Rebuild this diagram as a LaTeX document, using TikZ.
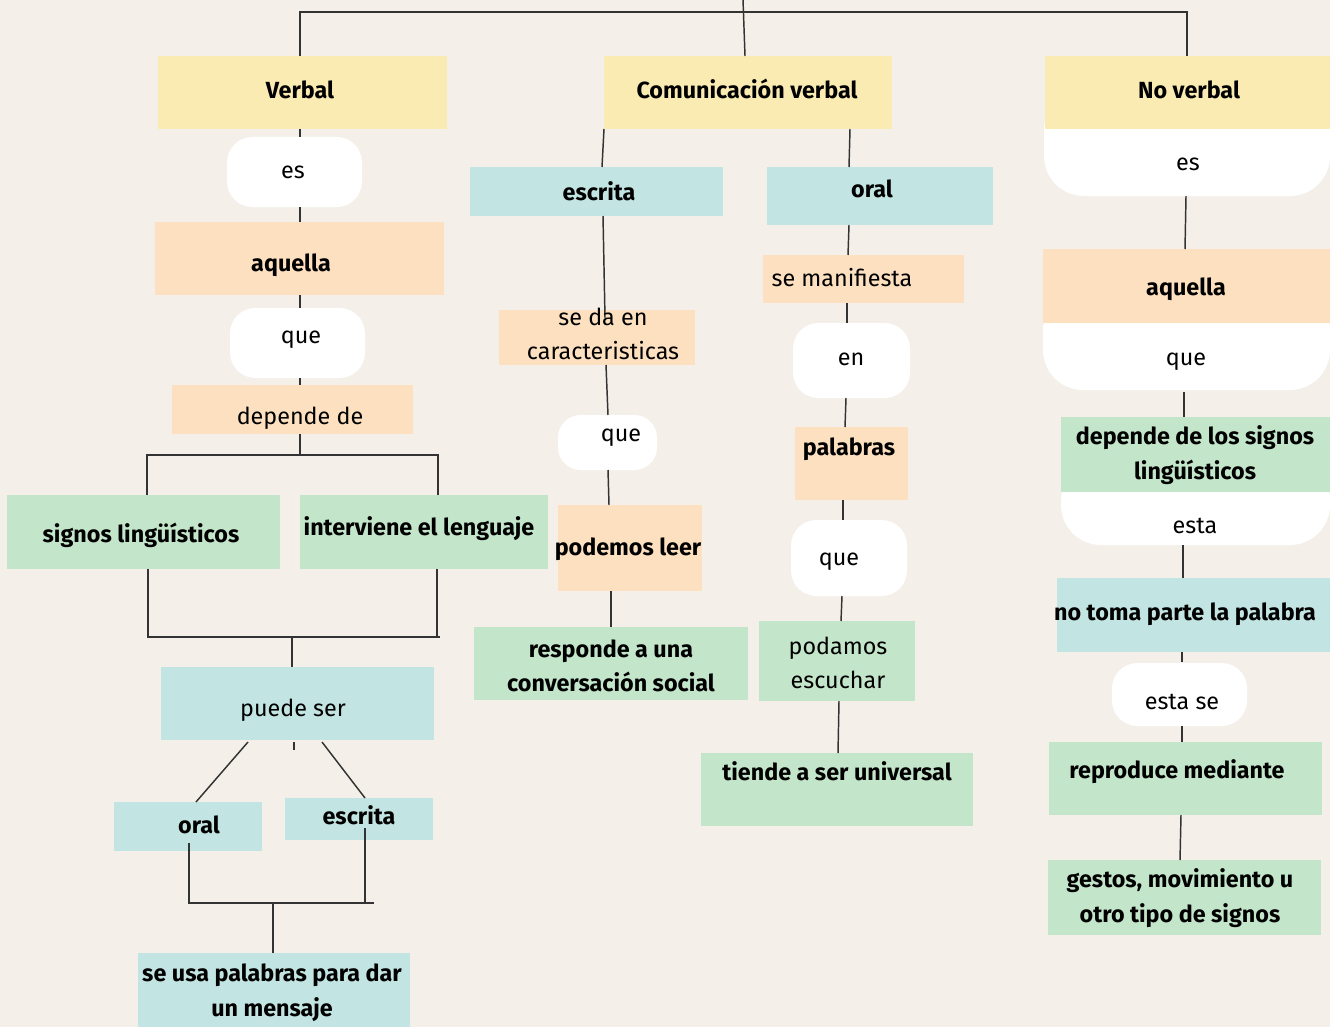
\documentclass[tikz,border=0pt]{standalone}
\usepackage{fontspec}
\setmainfont{Fira Sans}
\usetikzlibrary{fit}
\definecolor{bgc}{HTML}{F4EFE9}
\definecolor{cYel}{HTML}{F9EBB2}
\definecolor{cPea}{HTML}{FCE0BF}
\definecolor{cBlu}{HTML}{C2E4E2}
\definecolor{cGre}{HTML}{C3E5CA}
\definecolor{lineC}{HTML}{333333}
\tikzset{
  bx/.style={inner sep=0pt, outer sep=0pt, draw=none},
  yel/.style={bx, fill=cYel},
  pea/.style={bx, fill=cPea},
  blu/.style={bx, fill=cBlu},
  gre/.style={bx, fill=cGre},
  pill/.style={bx, fill=white, rounded corners=#1},
  tb/.style={inner sep=0pt, font=\fontsize{17.5}{26}\selectfont\bfseries, text height=12pt, text depth=0pt},
  tr/.style={inner sep=0pt, font=\fontsize{17.5}{26}\selectfont, text height=12pt, text depth=0pt},
  tb2/.style={inner sep=0pt, align=center, font=\fontsize{17.5}{26}\selectfont\bfseries},
  tr2/.style={inner sep=0pt, align=center, font=\fontsize{17.5}{26}\selectfont},
  ln/.style={draw=lineC, line width=1.1pt},
}
\begin{document}
\begin{tikzpicture}[x=0.75pt, y=-0.75pt]
\useasboundingbox (0,0) rectangle (1330,1027);
\fill[bgc] (0,0) rectangle (1330,1027);

% ---------- white pills / rounded shapes ----------
\node[pill=19pt, fit={(227,137) (362,207)}] (esL) {};
\node[pill=19pt, fit={(230,308) (365,378)}] (queL) {};
\node[pill=17pt, fit={(558,415) (657,470)}] (queM) {};
\node[pill=19pt, fit={(793,323) (910,398)}] (enM) {};
\node[pill=19pt, fit={(791,520) (907,596)}] (queM2) {};
\node[pill=19pt, fit={(1112,663) (1247,726)}] (estaSe) {};
\node[pill=30pt, fit={(1044,90) (1330,196)}] (esR) {};
\node[pill=30pt, fit={(1043,290) (1330,390)}] (queR) {};
\node[pill=30pt, fit={(1061,460) (1330,545)}] (estaR) {};

% ---------- coloured boxes ----------
\node[yel, fit={(158,56) (447,129)}] (verbal) {};
\node[pea, fit={(155,222) (444,295)}] (aqL) {};
\node[pea, fit={(172,385) (413,434)}] (dep) {};
\node[gre, fit={(7,495) (280,569)}] (signos) {};
\node[gre, fit={(300,495) (548,569)}] (interv) {};
\node[blu, fit={(161,667) (434,740)}] (puede) {};
\node[blu, fit={(114,802) (262,851)}] (oralL) {};
\node[blu, fit={(285,798) (433,840)}] (escL) {};
\node[blu, fit={(138,953) (410,1027)}] (seusa) {};

\node[yel, fit={(604,56) (892,129)}] (cv) {};
\node[blu, fit={(470,167) (723,216)}] (escM) {};
\node[pea, fit={(499,310) (695,365)}] (seda) {};
\node[pea, fit={(558,505) (702,591)}] (leer) {};
\node[gre, fit={(474,627) (748,700)}] (resp) {};
\node[blu, fit={(767,167) (993,225)}] (oralM) {};
\node[pea, fit={(763,255) (964,303)}] (seman) {};
\node[pea, fit={(795,427) (908,500)}] (pal) {};
\node[gre, fit={(759,621) (915,701)}] (podamos) {};
\node[gre, fit={(701,753) (973,826)}] (tiende) {};

\node[yel, fit={(1045,56) (1330,129)}] (nv) {};
\node[pea, fit={(1043,249) (1330,323)}] (aqR) {};
\node[gre, fit={(1061,417) (1330,492)}] (depR) {};
\node[blu, fit={(1057,578) (1330,652)}] (notoma) {};
\node[gre, fit={(1049,742) (1322,815)}] (repro) {};
\node[gre, fit={(1048,860) (1321,935)}] (gestos) {};

% ---------- connectors ----------
\coordinate (topc) at (743,0);
\draw[ln] (verbal.north -| 300,0) -- (300,12) -- (1187,12) -- (nv.north -| 1187,0);
\draw[ln] (topc) -- (cv.north -| 745,0);

\draw[ln] (verbal.south -| 300,0) -- ++(0,8);
\draw[ln] (esL.south -| 300,0) -- (aqL.north -| 300,0);
\draw[ln] (aqL.south -| 300,0) -- (queL.north -| 300,0);
\draw[ln] (queL.south -| 300,0) -- (dep.north -| 300,0);
\coordinate (bL) at (146,455);
\coordinate (bM) at (300,455);
\coordinate (bR) at (438,455);
\draw[ln] (dep.south -| bM) -- (bM);
\draw[ln] (signos.north -| 147,0) -- (147,455) -- (bR) -- (interv.north -| bR);
\draw[ln] (bL) -- (147,455);
\coordinate (cL) at (148,637);
\coordinate (cM) at (292,637);
\coordinate (cR) at (437,637);
\draw[ln] (signos.south -| cL) -- (cL) -- (440,637);
\draw[ln] (interv.south -| cR) -- (cR);
\draw[ln] (cM) -- (puede.north -| cM);
\draw[ln] (248,742) -- (oralL.north -| 196,0);
\draw[ln] (322,742) -- (escL.north -| 365,0);
\draw[ln] (puede.south -| 294,0) ++(0,2) -- ++(0,8);
\coordinate (dM) at (273,903);
\draw[ln] (189,843) -- (189,903) -- (374,903);
\draw[ln] (365,828) -- (365,903);
\draw[ln] (dM) -- (seusa.north -| dM);

\draw[ln] (cv.south west) -- (escM.north -| 602,0);
\draw[ln] (escM.south -| 603,0) -- (605,318);
\draw[ln] (seda.south -| 606,0) -- (queM.north -| 608,0);
\draw[ln] (queM.south -| 608,0) -- (leer.north -| 609,0);
\draw[ln] (leer.south -| 611,0) -- (resp.north -| 611,0);
\draw[ln] (cv.south -| 850,0) -- (oralM.north -| 849,0);
\draw[ln] (oralM.south -| 849,0) -- (seman.north -| 848,0);
\draw[ln] (seman.south -| 847,0) -- (enM.north -| 847,0);
\draw[ln] (enM.south -| 846,0) -- (pal.north -| 845,0);
\draw[ln] (pal.south -| 843,0) -- (queM2.north -| 843,0);
\draw[ln] (queM2.south -| 842,0) -- (podamos.north -| 841,0);
\draw[ln] (podamos.south -| 839,0) -- (tiende.north -| 838,0);

\draw[ln] (esR.south -| 1186,0) -- (aqR.north -| 1185,0);
\draw[ln] (queR.south -| 1184,0) ++(0,2) -- (depR.north -| 1184,0);
\draw[ln] (estaR.south -| 1183,0) -- (notoma.north -| 1183,0);
\draw[ln] (notoma.south -| 1182,0) -- ++(0,10);
\draw[ln] (estaSe.south -| 1182,0) -- (repro.north -| 1182,0);
\draw[ln] (repro.south -| 1181,0) -- (gestos.north -| 1180,0);

% ---------- texts ----------
\node[tb] (t1) at (300,91) {Verbal};
\node[tr] (t2) at (293,170) {es};
\node[tb] (t3) at (291,263) {aquella};
\node[tr] (t4) at (301,335) {que};
\node[tr] (t5) at (300,416) {depende de};
\node[tb] (t6) at (141,534) {signos lingüísticos};
\node[tb] (t7) at (419,527) {interviene el lenguaje};
\node[tr] (t8) at (293,708) {puede ser};
\node[tb] (t9) at (199,825) {oral};
\node[tb] (t10) at (359,816) {escrita};
\node[tb2] (t11) at (272,993) {se usa palabras para dar\\un mensaje};

\node[tb] (t12) at (747,91) {Comunicación verbal};
\node[tb] (t13) at (599,192) {escrita};
\node[tr2] (t14) at (603,334) {se da en\\caracteristicas};
\node[tr] (t15) at (621,433) {que};
\node[tb] (t16) at (628,547) {podemos leer};
\node[tb2] (t17) at (611,666) {responde a una\\conversación social};
\node[tb] (t18) at (872,189) {oral};
\node[tr] (t19) at (842,278) {se manifiesta};
\node[tr] (t20) at (851,357) {en};
\node[tb] (t21) at (849,447) {palabras};
\node[tr] (t22) at (839,557) {que};
\node[tr2] (t23) at (838,663) {podamos\\escuchar};
\node[tb] (t24) at (837,772) {tiende a ser universal};

\node[tb] (t25) at (1189,91) {No verbal};
\node[tr] (t26) at (1188,163) {es};
\node[tb] (t27) at (1186,287) {aquella};
\node[tr] (t28) at (1186,357) {que};
\node[tb2] (t29) at (1195,455) {depende de los signos\\lingüísticos};
\node[tr] (t30) at (1195,525) {esta};
\node[tb] (t31) at (1185,612) {no toma parte la palabra};
\node[tr] (t32) at (1182,701) {esta se};
\node[tb] (t33) at (1177,770) {reproduce mediante};
\node[tb2] (t34) at (1180,898) {gestos, movimiento u\\otro tipo de signos};
\end{tikzpicture}
\end{document}
